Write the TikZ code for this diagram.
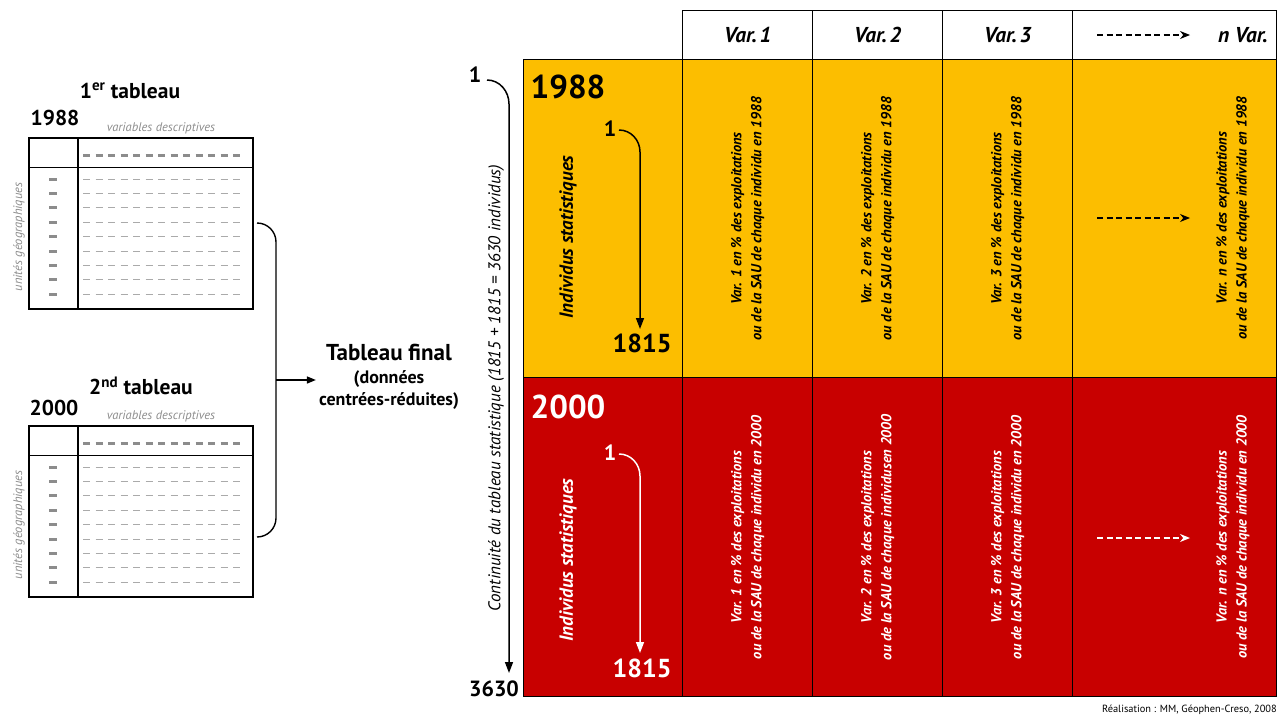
\documentclass[tikz,border=0pt]{standalone}
\usepackage{fontspec}
\setmainfont{PT Sans}
\usetikzlibrary{arrows.meta}
\definecolor{cyel}{RGB}{252,190,0}
\definecolor{cred}{RGB}{200,0,0}
\definecolor{cgray}{RGB}{140,140,140}
\definecolor{clgray}{RGB}{170,170,170}
\begin{document}
\begin{tikzpicture}[x=1pt,y=-1pt,
  gridline/.style={draw=black, line width=1.4pt},
  ycell/.style={gridline, fill=cyel, anchor=north west, inner sep=0pt, minimum height=318pt},
  rcell/.style={gridline, fill=cred, anchor=north west, inner sep=0pt, minimum height=319pt},
  hcell/.style={gridline, fill=white, anchor=north west, inner sep=0pt, minimum height=49pt,
    font=\fontsize{21.5}{22}\selectfont\bfseries\itshape},
  vtext/.style={rotate=90, align=center, inner sep=0pt, font=\fontsize{14.5}{20}\selectfont\bfseries\itshape},
  bignum/.style={inner sep=0pt, font=\fontsize{33}{34}\selectfont\bfseries},
  midnum/.style={inner sep=0pt, font=\fontsize{26}{28}\selectfont\bfseries},
  smallnum/.style={inner sep=0pt, font=\fontsize{22}{24}\selectfont\bfseries},
  indtext/.style={rotate=90, inner sep=0pt, font=\fontsize{19}{20}\selectfont\bfseries\itshape},
  arr/.style={line width=1.5pt, -{Triangle[length=11pt,width=8pt]}},
  dasharr/.style={line width=1.3pt, dash pattern=on 6pt off 3.5pt, -{Stealth[length=10pt,width=8pt]}},
  tabbox/.style={draw=black, line width=1.2pt},
  headdash/.style={draw=cgray, line width=3pt, dash pattern=on 7pt off 5.5pt},
  rowdash/.style={draw=clgray, line width=0.7pt, dash pattern=on 7pt off 5.5pt},
  coldash/.style={draw=cgray, line width=3pt},
  graylab/.style={inner sep=0pt, text=cgray, font=\fontsize{12.5}{13}\selectfont\itshape},
  tabtitle/.style={inner sep=0pt, font=\fontsize{21.5}{22}\selectfont\bfseries},
]
\useasboundingbox (0,0) rectangle (1279,718);

% ---------- left source tables ----------
\node[tabtitle] (t1title) at (130,91) {1\textsuperscript{er} tableau};
\node[tabtitle] (t1year) at (55,118) {1988};
\node[tabtitle] (t2title) at (141,386) {2\textsuperscript{nd} tableau};
\node[tabtitle] (t2year) at (54,408) {2000};
\foreach \t in {138,426} {
  \draw[tabbox] (29,\t) rectangle (253,{\t+171});
  \draw[tabbox] (29,{\t+29.5}) -- (253,{\t+29.5});
  \draw[tabbox] (78,\t) -- (78,{\t+171});
  \draw[headdash] (83,{\t+17}) -- (243,{\t+17});
  \foreach \i in {0,...,8} {
    \draw[rowdash] (83,{\t+41+\i*14.4}) -- (243,{\t+41+\i*14.4});
    \draw[coldash] (49,{\t+41+\i*14.4}) -- (57,{\t+41+\i*14.4});
  }
  \node[graylab] at (161,{\t-10}) {variables descriptives};
  \node[graylab, rotate=90] at (19,{\t+99}) {unités géographiques};
}

% ---------- bracket and arrow ----------
\coordinate (brtop) at (257,223);
\coordinate (brbot) at (257,537);
\coordinate (brmid) at (276,380);
\node[align=center, inner sep=3pt, font=\fontsize{18}{22.5}\selectfont\bfseries] (final) at (389,377)
  {{\fontsize{23}{23}\selectfont Tableau final}\\
   (données\\
   centrées-réduites)};
\draw[line width=1.4pt] (brtop) to[out=0,in=90] (276,242) -- (276,518) to[out=-90,in=0] (brbot);
\draw[line width=1.4pt, -{Triangle[length=9pt,width=7pt]}] (brmid) -- (final.west |- brmid);

% ---------- axis ----------
\node[smallnum] (ax1) at (475,75) {1};
\node[smallnum] (ax2) at (494,689) {3630};
\draw[arr] (487,80) to[out=0,in=90] (509,104) -- (509,673);
\node[rotate=90, inner sep=0pt, font=\fontsize{17}{18}\selectfont\itshape] (axlab) at (496,388)
  {Continuité du tableau statistique (1815 + 1815 = 3630 individus)};

% ---------- header ----------
\node[hcell, minimum width=130pt] (h1) at (682,10) {Var.\hspace{0.12em}1};
\node[hcell, minimum width=130pt] (h2) at (812,10) {Var.\hspace{0.12em}2};
\node[hcell, minimum width=130pt] (h3) at (942,10) {Var.\hspace{0.12em}3};
\node[hcell, minimum width=204pt] (h4) at (1072,10) {};
\node[inner sep=0pt, font=\fontsize{21.5}{22}\selectfont\bfseries\itshape] (hn) at (1243,35) {n Var.};
\coordinate (hda) at (1097,35);
\coordinate (hdb) at (1190,35);
\draw[dasharr] (hda) -- (hdb);

% ---------- 1988 row ----------
\node[ycell, minimum width=159pt] (y0) at (523,59) {};
\node[ycell, minimum width=130pt] (y1) at (682,59) {};
\node[ycell, minimum width=130pt] (y2) at (812,59) {};
\node[ycell, minimum width=130pt] (y3) at (942,59) {};
\node[ycell, minimum width=204pt] (y4) at (1072,59) {};

\node[bignum] (yyear) at (568,87) {1988};
\node[smallnum] (ys) at (610,129) {1};
\node[midnum] (ye) at (642,343) {1815};
\draw[arr] (619,130) to[out=0,in=90] (640,152) -- (640,329);
\node[indtext] (yind) at (568,237) {Individus statistiques};

\node[vtext] (yt1) at (y1.center) {Var. 1 en \% des exploitations\\ou de la SAU de chaque individu en 1988};
\node[vtext] (yt2) at (y2.center) {Var. 2 en \% des exploitations\\ou de la SAU de chaque individu en 1988};
\node[vtext] (yt3) at (y3.center) {Var. 3 en \% des exploitations\\ou de la SAU de chaque individu en 1988};
\node[vtext] (yt4) at (1233,218) {Var. n en \% des exploitations\\ou de la SAU de chaque individu en 1988};
\coordinate (yda) at (1097,218);
\coordinate (ydb) at (1190,218);
\draw[dasharr] (yda) -- (ydb);

% ---------- 2000 row ----------
\node[rcell, minimum width=159pt] (r0) at (523,377) {};
\node[rcell, minimum width=130pt] (r1) at (682,377) {};
\node[rcell, minimum width=130pt] (r2) at (812,377) {};
\node[rcell, minimum width=130pt] (r3) at (942,377) {};
\node[rcell, minimum width=204pt] (r4) at (1072,377) {};

\begin{scope}[every node/.append style={text=white}]
\node[bignum] (ryear) at (568,407) {2000};
\node[smallnum] (rs) at (610,453) {1};
\node[midnum] (re) at (642,668) {1815};
\node[indtext] (rind) at (568,560) {Individus statistiques};
\node[vtext] (rt1) at (r1.center) {Var. 1 en \% des exploitations\\ou de la SAU de chaque individu en 2000};
\node[vtext] (rt2) at (r2.center) {Var. 2 en \% des exploitations\\ou de la SAU de chaque individusen 2000};
\node[vtext] (rt3) at (r3.center) {Var. 3 en \% des exploitations\\ou de la SAU de chaque individu en 2000};
\node[vtext] (rt4) at (1233,537) {Var. n en \% des exploitations\\ou de la SAU de chaque individu en 2000};
\end{scope}
\draw[arr, white] (619,454) to[out=0,in=90] (640,476) -- (640,653);
\coordinate (rda) at (1097,538);
\coordinate (rdb) at (1190,538);
\draw[dasharr, white] (rda) -- (rdb);

% ---------- credit ----------
\node[anchor=east, inner sep=0pt, font=\fontsize{10.4}{12}\selectfont] (credit) at (1277,710)
  {Réalisation : MM, Géophen-Creso, 2008};
\end{tikzpicture}
\end{document}
